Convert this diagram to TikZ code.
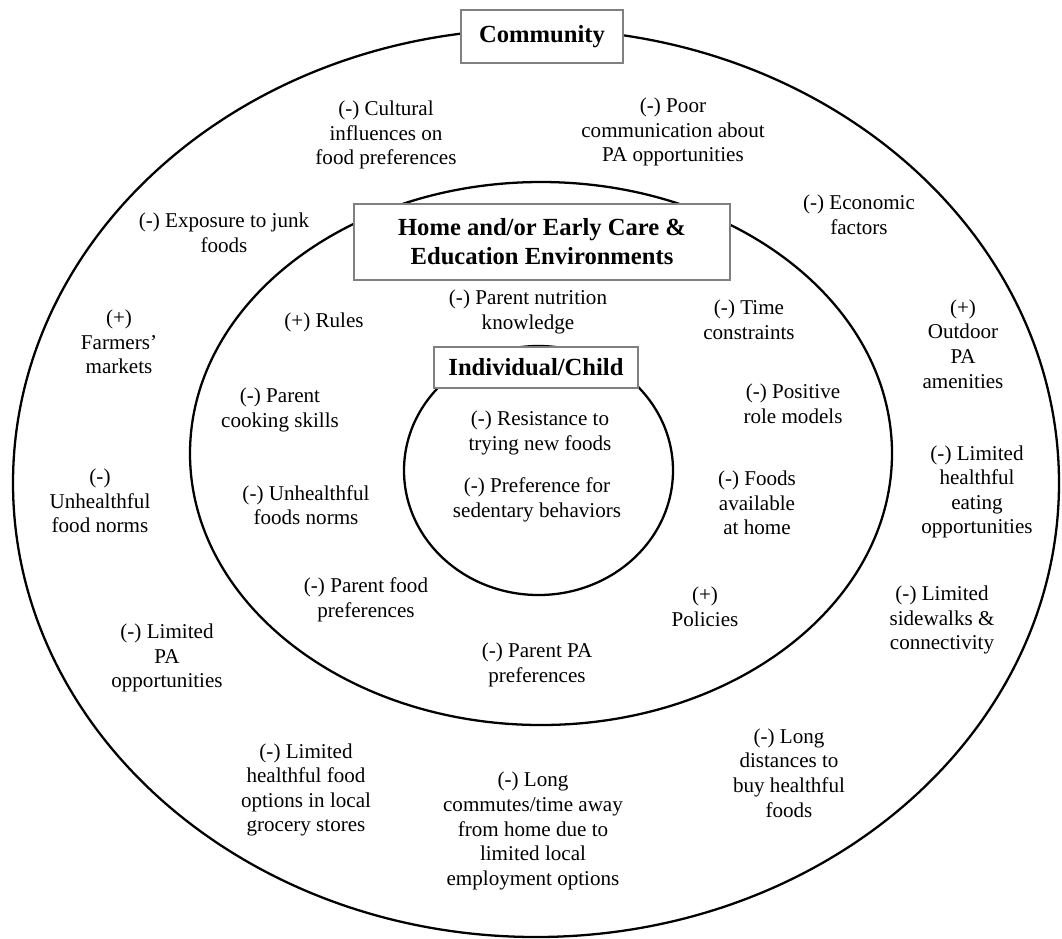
\documentclass[tikz,border=0pt]{standalone}
\usepackage{fontspec}
\setmainfont{Liberation Serif}
\usetikzlibrary{positioning}
\begin{document}
\begin{tikzpicture}[x=0.02cm,y=0.02cm]
\tikzstyle{ring}=[line width=1.3pt,draw=black];
\tikzstyle{factor}=[align=center,inner sep=1pt,font=\fontsize{12}{14}\selectfont];
\tikzstyle{level}=[draw=gray,line width=0.8pt,fill=white,align=center,font=\fontsize{14}{16.5}\selectfont\bfseries];

\useasboundingbox (0,0) rectangle (1062,-938);

% rings
\draw [ring] (536,-483) ellipse (523 and 454); % community
\draw [ring] (541,-453.5) ellipse (351 and 271.5); % home
\draw [ring] (538.5,-470.5) ellipse (134.5 and 124.5); % child

% level labels
\node [level, minimum width=3.24cm, minimum height=1.06cm] (community) at (542,-36.5) {Community};
\node [level, minimum width=7.52cm, minimum height=1.52cm] (home) at (542,-242) {Home and/or Early Care \&\\Education Environments};
\node [level, minimum width=4.08cm, minimum height=0.82cm] (child) at (536,-367.5) {Individual/Child};

% community factors
\node [factor] (cultural) at (386,-135) {(-) Cultural\\influences on\\food preferences};
\node [factor] (communication) at (673,-132) {(-) Poor\\communication about\\PA opportunities};
\node [factor] (economic) at (859,-215) {(-) Economic\\factors};
\node [factor] (junk) at (224,-233) {(-) Exposure to junk\\foods};
\node [factor] (farmers) at (119,-342) {(+)\\Farmers'\\markets};
\node [factor] (outdoor) at (963,-344) {(+)\\Outdoor\\PA\\amenities};
\node [factor] (foodnorms) at (100,-501) {(-)\\Unhealthful\\food norms};
\node [factor] (eating) at (977,-492) {(-) Limited\\healthful\\eating\\opportunities};
\node [factor] (paopp) at (167,-658) {(-) Limited\\PA\\opportunities};
\node [factor] (sidewalks) at (942,-620) {(-) Limited\\sidewalks \&\\connectivity};
\node [factor] (grocery) at (306,-790) {(-) Limited\\healthful food\\options in local\\grocery stores};
\node [factor] (commutes) at (533,-831) {(-) Long\\commutes/time away\\from home due to\\limited local\\employment options};
\node [factor] (distances) at (789,-773) {(-) Long\\distances to\\buy healthful\\foods};

% home factors
\node [factor] (rules) at (324,-322) {(+) Rules};
\node [factor] (nutrition) at (528,-312) {(-) Parent nutrition\\knowledge};
\node [factor] (time) at (749,-320) {(-) Time\\constraints};
\node [factor] (cooking) at (280,-410) {(-) Parent\\cooking skills};
\node [factor] (rolemodels) at (793,-404) {(-) Positive\\role models};
\node [factor] (homenorms) at (306,-505) {(-) Unhealthful\\foods norms};
\node [factor] (available) at (757,-503) {(-) Foods\\available\\at home};
\node [factor] (parentfood) at (366,-600) {(-) Parent food\\preferences};
\node [factor] (policies) at (705,-607) {(+)\\Policies};
\node [factor] (parentpa) at (537,-665) {(-) Parent PA\\preferences};

% child factors
\node [factor] (resistance) at (540,-433) {(-) Resistance to\\trying new foods};
\node [factor] (sedentary) at (537,-500) {(-) Preference for\\sedentary behaviors};

\end{tikzpicture}
\end{document}
